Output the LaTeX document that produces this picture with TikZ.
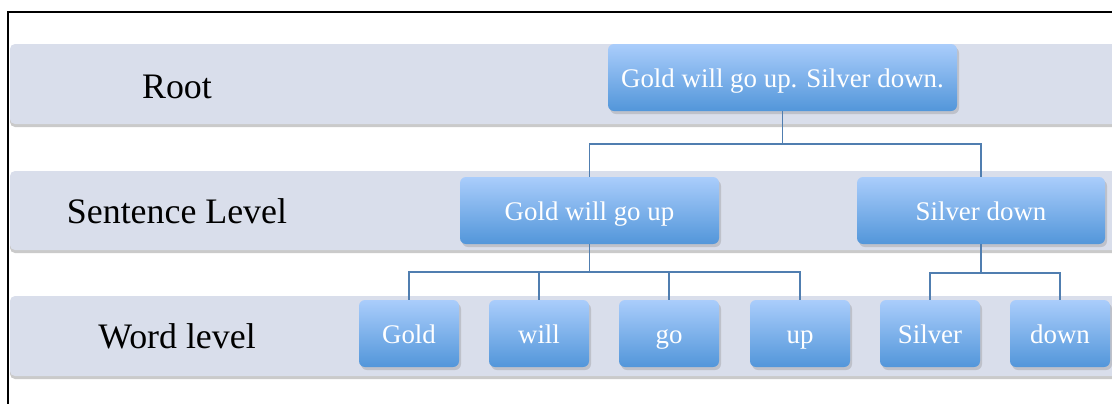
\documentclass[tikz,border=0pt]{standalone}
\usepackage{fontspec}
\setmainfont{Liberation Serif}
\usetikzlibrary{shadows}
\definecolor{bandfill}{RGB}{217,222,235}
\definecolor{boxtop}{RGB}{170,205,251}
\definecolor{boxbot}{RGB}{82,150,218}
\definecolor{connc}{RGB}{80,126,176}
\tikzset{
  band/.style={fill=bandfill, rounded corners=5bp, drop shadow={shadow xshift=0bp, shadow yshift=-3bp, opacity=0.35, fill=black!60}},
  bandlabel/.style={anchor=base, font=\fontsize{36}{40}\selectfont, text=black, inner sep=0pt},
  treebox/.style={rounded corners=6bp, top color=boxtop, bottom color=boxbot, draw=none,
    text=white, font=\fontsize{27}{30}\selectfont, inner sep=0pt, text height=19bp, text depth=0pt,
    minimum height=67bp, drop shadow={shadow xshift=2bp, shadow yshift=-3bp, opacity=0.3}},
  wordbox/.style={treebox, minimum width=100bp},
  conn/.style={draw=connc, line width=1.8bp},
  frameline/.style={draw=black, line width=1.5bp}
}
\begin{document}
\begin{tikzpicture}[x=1bp,y=-1bp]
\useasboundingbox (0,0) rectangle (1112,403);
\clip (0,0) rectangle (1112,403);
% frame
\coordinate (fa) at (8,420);
\coordinate (fb) at (8,12);
\coordinate (fc) at (1130,12);
\draw[frameline] (fa) -- (fb) -- (fc);
% bands
\path[band] (10,44) rectangle (1140,124);
\path[band] (10,171) rectangle (1140,250);
\path[band] (10,296) rectangle (1140,376);
% band labels
\node[bandlabel] (lroot) at (177,98) {Root};
\node[bandlabel] (lsent) at (177,223) {Sentence Level};
\node[bandlabel] (lword) at (177,348) {Word level};
% boxes
\node[treebox, minimum width=349bp] (root) at (782.5,77.5) {Gold will go up. Silver down.};
\node[treebox, minimum width=259bp] (s1) at (589.5,210.5) {Gold will go up};
\node[treebox, minimum width=248bp] (s2) at (981,210.5) {Silver down};
\node[wordbox] (w1) at (409,333.5) {Gold};
\node[wordbox] (w2) at (539,333.5) {will};
\node[wordbox] (w3) at (669,333.5) {go};
\node[wordbox] (w4) at (800,333.5) {up};
\node[wordbox] (w5) at (930,333.5) {Silver};
\node[wordbox] (w6) at (1060,333.5) {down};
% connectors
\draw[conn] (root.south) -- ++(0,33) -| (s1.north);
\draw[conn] (root.south) -- ++(0,33) -| (s2.north);
\foreach \w in {w1,w2,w3,w4}{\draw[conn] (s1.south) -- ++(0,28) -| (\w.north);}
\foreach \w in {w5,w6}{\draw[conn] (s2.south) -- ++(0,28.5) -| (\w.north);}
\end{tikzpicture}
\end{document}
